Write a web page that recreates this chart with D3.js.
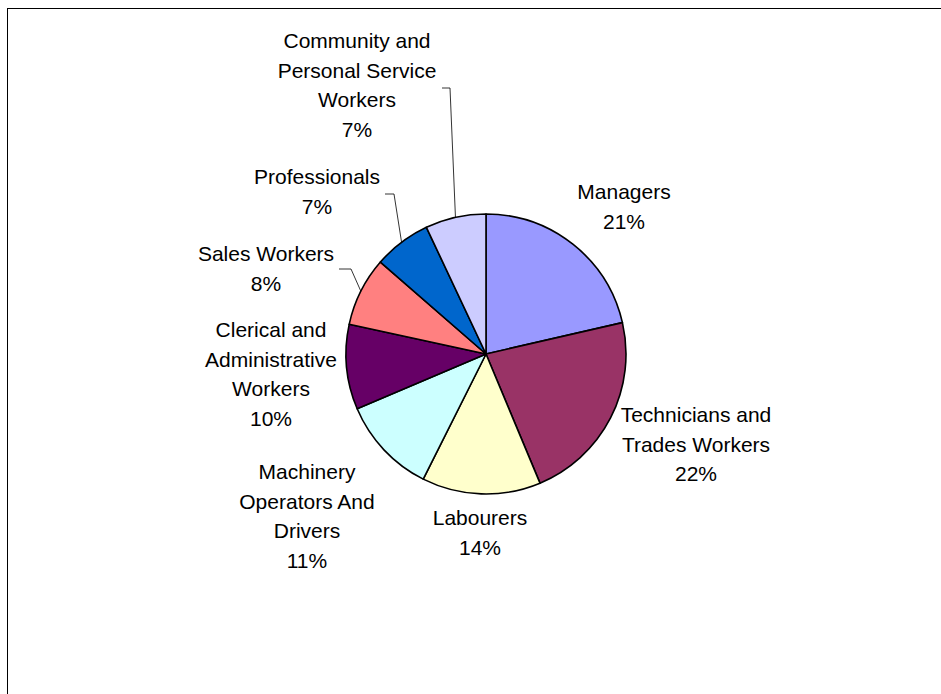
<!DOCTYPE html>
<html>
<head>
<meta charset="utf-8">
<script src="https://d3js.org/d3.v7.min.js"></script>
<style>
  body { margin: 0; background: #fff; }
  text { font-family: "Liberation Sans", Arial, sans-serif; font-size: 21px; fill: #000; }
</style>
</head>
<body>
<script>
// occupations, clockwise from 12 o'clock
var categories = ["Managers", "Technicians and Trades Workers", "Labourers",
  "Machinery Operators And Drivers", "Clerical and Administrative Workers",
  "Sales Workers", "Professionals", "Community and Personal Service Workers"];
var shares = [21.4, 22.3, 13.7, 11.2, 9.8, 8.0, 6.6, 7.0];
var colours = ["#9999FF", "#993366", "#FFFFCC", "#CCFFFF", "#660066", "#FF8080", "#0066CC", "#CCCCFF"];

// how each label is broken into lines
var labelLines = [
  ["Managers"],
  ["Technicians and", "Trades Workers"],
  ["Labourers"],
  ["Machinery", "Operators And", "Drivers"],
  ["Clerical and", "Administrative", "Workers"],
  ["Sales Workers"],
  ["Professionals"],
  ["Community and", "Personal Service", "Workers"]
];

var width = 941, height = 694;
var cx = 486, cy = 354, r = 140;

// label centre x and first baseline y (best-fit positions)
var labelPos = [[624, 199], [696, 422], [480, 525], [307, 479], [271, 337], [266, 261], [317, 184], [357, 48]];
// leader lines: start of the short horizontal tick (only the small slices have one)
var leaders = {5: [339, 269, 351], 6: [385, 194, 394], 7: [442, 88, 450]};

var svg = d3.select("body").append("svg")
    .attr("width", width)
    .attr("height", height);

// chart frame (runs off the right and bottom)
svg.append("rect")
    .attr("x", 7.5).attr("y", 8.5)
    .attr("width", 1000).attr("height", 1000)
    .attr("fill", "none")
    .attr("stroke", "#000")
    .attr("stroke-width", 1);

var pie = d3.pie().sort(null).value(function(d) { return d; });
var arcs = pie(shares);
var arc = d3.arc().innerRadius(0).outerRadius(r);

var g = svg.append("g").attr("transform", "translate(" + cx + "," + cy + ")");

g.selectAll("path")
    .data(arcs)
    .enter()
    .append("path")
    .attr("d", arc)
    .attr("fill", function(d, i) { return colours[i]; })
    .attr("stroke", "#000")
    .attr("stroke-width", 1.6)
    .attr("stroke-linejoin", "round");

// leader lines to slice edge midpoints
Object.keys(leaders).forEach(function(k) {
  var a = arcs[k];
  var mid = (a.startAngle + a.endAngle) / 2;
  var ex = cx + r * Math.sin(mid), ey = cy - r * Math.cos(mid);
  var l = leaders[k];
  svg.append("polyline")
      .attr("points", [[l[0], l[1]], [l[2], l[1]], [ex, ey]].map(function(p) { return p.join(","); }).join(" "))
      .attr("fill", "none")
      .attr("stroke", "#000")
      .attr("stroke-width", 0.8);
});

var labels = svg.selectAll("text.lbl")
    .data(arcs)
    .enter()
    .append("text")
    .attr("class", "lbl")
    .attr("text-anchor", "middle");

labels.each(function(d, i) {
  var t = d3.select(this);
  var lines = labelLines[i].concat([Math.round(d.value) + "%"]);
  lines.forEach(function(s, j) {
    t.append("tspan")
        .attr("x", labelPos[i][0])
        .attr("y", labelPos[i][1] + j * 29.7)
        .text(s);
  });
});
</script>
</body>
</html>
